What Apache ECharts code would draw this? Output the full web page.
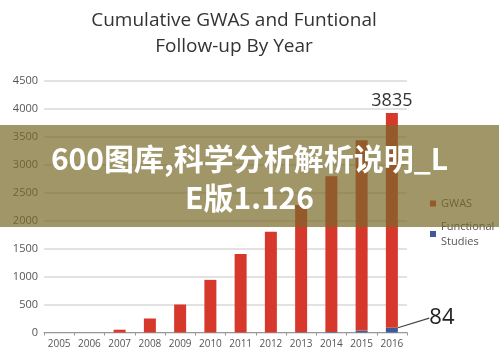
<!DOCTYPE html>
<html>
<head>
<meta charset="utf-8">
<script src="https://cdn.jsdelivr.net/npm/echarts@6/dist/echarts.min.js"></script>
<style>
html,body{margin:0;padding:0;background:#fff;}
#main{width:499px;height:353px;}
</style>
</head>
<body>
<div id="main"></div>
<script>
var years = ['2005','2006','2007','2008','2009','2010','2011','2012','2013','2014','2015','2016'];
var functionalStudies = [0, 0, 0, 0, 0, 0, 0, 0, 5, 10, 35, 84];
var gwas = [0, 0, 50, 250, 500, 940, 1400, 1800, 2270, 2780, 3400, 3835];
var yTicks = [0, 500, 1000, 1500, 2000, 2500, 3000, 3500, 4000, 4500];
var titleText = 'Cumulative GWAS and Funtional\nFollow-up By Year';
var bannerText = '600图库,科学分析解析说明_L\nE版1.126';

var chart = echarts.init(document.getElementById('main'), null, {renderer:'canvas'});
var font = 'Open Sans';
var gwasData = gwas.map(function(v, i){
  if (i === gwas.length - 1) {
    return {value: v, label: {show: true, position: 'top', distance: 3, fontSize: 18, color: '#333', fontFamily: font, formatter: '{c}'}};
  }
  return v;
});
var funcData = functionalStudies.map(function(v, i){
  if (i === functionalStudies.length - 1) {
    return {value: v, label: {show: true, position: 'inside', fontSize: 22, color: '#222', fontFamily: font, formatter: '{c}'}, labelLine: {show: true}};
  }
  return v;
});

chart.setOption({
  animation: false,
  backgroundColor: '#fff',
  title: {
    text: titleText,
    left: 229, top: 3, textAlign: 'center',
    textStyle: {fontFamily: font, fontSize: 19, fontWeight: 'normal', color: '#333', lineHeight: 26}
  },
  legend: {
    orient: 'vertical', left: 425, top: 191,
    itemWidth: 6, itemHeight: 6, itemGap: 8,
    icon: 'rect',
    data: ['GWAS', 'Functional Studies'],
    formatter: function(n){ return n === 'Functional Studies' ? 'Functional\nStudies' : n; },
    textStyle: {fontFamily: font, fontSize: 11, color: '#555', lineHeight: 15}
  },
  grid: {left: 44, right: 92, top: 80.5, bottom: 20.5, containLabel: false},
  xAxis: {
    type: 'category', data: years,
    axisLine: {lineStyle: {color: '#999', width: 1}},
    axisTick: {show: true, length: 3, lineStyle: {color: '#999'}},
    axisLabel: {fontFamily: font, fontSize: 10, color: '#555', margin: 7}
  },
  yAxis: {
    type: 'value', min: yTicks[0], max: yTicks[yTicks.length-1], interval: 500,
    axisLine: {show: false}, axisTick: {show: false},
    axisLabel: {fontFamily: font, fontSize: 11, color: '#555', margin: 6, formatter: function(v){ return String(v); }},
    splitLine: {lineStyle: {color: '#d9d9d9', width: 1.5}}
  },
  series: [
    {
      name: 'Functional Studies', type: 'bar', stack: 'total', barWidth: 12,
      itemStyle: {color: '#3d5a9a'},
      data: funcData,
      labelLayout: {dx: 50, dy: -12},
      labelLine: {lineStyle: {color: '#444', width: 1.2}}
    },
    {
      name: 'GWAS', type: 'bar', stack: 'total', barWidth: 12,
      itemStyle: {color: '#d6382c'},
      data: gwasData
    }
  ],
  graphic: [
    {
      type: 'rect', z: 100, shape: {x: 0, y: 125, width: 499, height: 102},
      style: {fill: 'rgba(120,105,40,0.7)'}
    },
    {
      type: 'text', z: 101, x: 249.5, y: 178.5,
      style: {text: bannerText, fill: '#fff', font: 'bold 30px "Noto Sans CJK SC"', textAlign: 'center', textVerticalAlign: 'middle', lineHeight: 39}
    }
  ]
});
</script>
</body>
</html>
